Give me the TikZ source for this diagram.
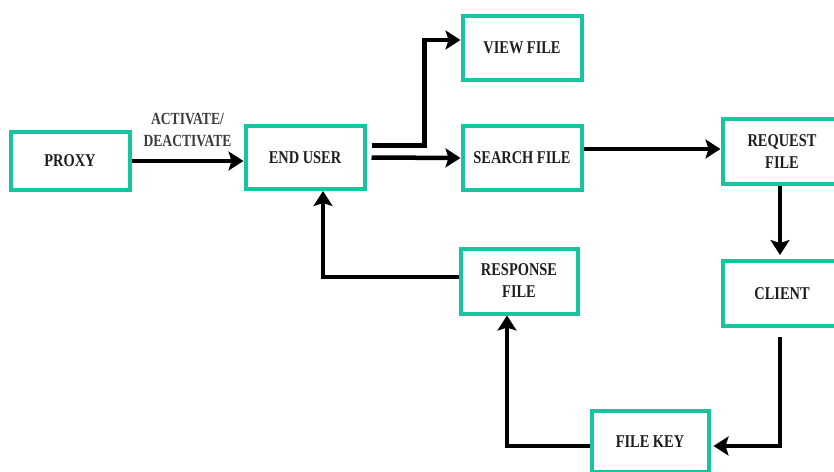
\documentclass[tikz,border=0pt]{standalone}
\usepackage{fontspec}
\newfontfamily\condfont[FakeStretch=0.8, BoldFont={Liberation Serif Bold}]{Liberation Serif}
\usetikzlibrary{arrows.meta}
\definecolor{boxteal}{RGB}{22,196,160}
\definecolor{txt}{RGB}{30,30,30}
\definecolor{lbl}{RGB}{60,60,60}
\begin{document}
\begin{tikzpicture}[x=1pt,y=-1pt,
  box/.style={draw=boxteal, line width=4pt, fill=white, inner sep=0pt,
    minimum width=119pt, minimum height=63pt, align=center,
    font=\condfont\bfseries\fontsize{18}{22}\selectfont, text=txt},
  conn/.style={line width=4.5pt, black, -{Stealth[length=15pt,width=19pt,inset=3pt]}}]
\useasboundingbox (0,0) rectangle (834,471);
\clip (0,0) rectangle (834,471);
\node[box, minimum height=58pt] (proxy) at (70,161) {PROXY};
\node[box] (enduser) at (305,157.5) {END USER};
\node[box, minimum height=64pt] (view) at (522,48) {VIEW FILE};
\node[box, minimum height=64pt] (search) at (522,158) {SEARCH FILE};
\node[box, minimum height=65pt] (request) at (782,151.5) {REQUEST\\FILE};
\node[box, minimum height=65pt] (client) at (782,293.5) {CLIENT};
\node[box, minimum width=117pt, minimum height=65pt] (response) at (519,281) {RESPONSE\\FILE};
\node[box, minimum width=117pt, minimum height=61pt] (filekey) at (650,441.5) {FILE KEY};

\draw[conn] (proxy.east) -- (proxy.east -| enduser.west)
  node[midway, above=9pt, align=center, text=lbl, font=\condfont\bfseries\fontsize{17}{22}\selectfont] (actlabel) {ACTIVATE/\\DEACTIVATE};
\draw[conn] ([xshift=5pt,yshift=12pt]enduser.east) -- ++(53,0) |- ([yshift=8pt]view.west);
\draw[conn] ([xshift=5pt]enduser.east) -- (search.west);
\draw[conn] ([yshift=9pt]search.east) -- ([yshift=9pt]search.east -| request.west);
\draw[conn, shorten >=4pt] ([xshift=-2pt]request.south) -- ([xshift=-2pt]client.north);
\draw[conn] ([xshift=-2pt,yshift=-9pt]client.south) |- ([xshift=3pt,yshift=-4.5pt]filekey.east);
\draw[conn] ([yshift=-4.5pt]filekey.west) -| ([xshift=-12pt]response.south);
\draw[conn] ([yshift=4pt]response.west) -| ([xshift=18pt]enduser.south);
\end{tikzpicture}
\end{document}
